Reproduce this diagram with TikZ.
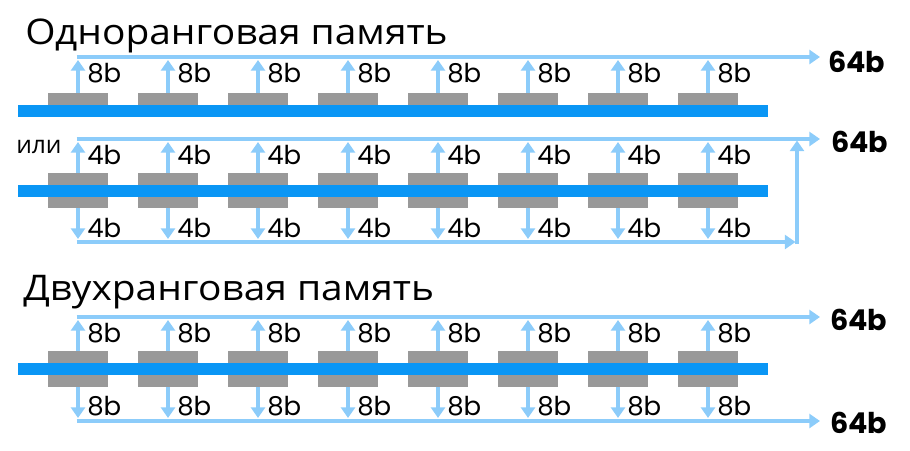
\documentclass[tikz,border=0pt]{standalone}
\usepackage{fontspec}
\setmainfont{Open Sans}
\newfontfamily\titlefont[FakeStretch=1.1]{Open Sans}
\newfontfamily\labelfont{Poppins}
\usetikzlibrary{arrows.meta}
\definecolor{busblue}{RGB}{10,150,245}
\definecolor{linkblue}{RGB}{140,204,250}
\definecolor{chipgray}{RGB}{153,153,153}

\begin{document}
\begin{tikzpicture}[x=0.75pt,y=0.75pt,yscale=-1,xscale=1]
\tikzset{
  chip/.style={fill=chipgray, inner sep=0pt, outer sep=0pt, minimum width=45pt},
  bus/.style={fill=busblue},
  link/.style={draw=linkblue, line width=2.8pt},
  tip/.style={-{Triangle[length=8pt,width=10.5pt]}},
  bits/.style={font=\labelfont\fontsize{19.5}{21}\selectfont, inner sep=0pt, anchor=base west},
  total/.style={font=\labelfont\bfseries\fontsize{21.5}{23}\selectfont, inner sep=0pt, anchor=base west},
  title/.style={font=\titlefont\fontsize{26.5}{30}\selectfont, inner sep=0pt, anchor=base west},
}
\useasboundingbox (0,0) rectangle (910,450);

% Text Node
\node[title] (t1) at (25,44) {Одноранговая память};
% Text Node
\node[title] (t2) at (23,300) {Двухранговая память};
% Text Node
\node[font=\fontsize{18.5}{20}\selectfont, inner sep=0pt, anchor=base west] (or) at (16,153) {или};

%Single rank, 8 chips x 8b
\coordinate (a-s) at (76.5,57);
\coordinate (a-e) at (820,57);
\coordinate (a-up) at (0,60);
\foreach \i in {0,...,7} {
  \node[chip, minimum height=18pt] (a\i) at (78+90*\i,105) {};
}
\fill[bus] (18,105) rectangle (768,117);
\draw[link,tip] (a-s) -- (a-e);
\foreach \i in {0,...,7} {
  \draw[link,tip] (a\i.north) -- (a\i.north |- a-up);
  \node[bits] (a\i-b) at (87+90*\i,82) {8b};
}
\node[total] (a-t) at (828,72) {64b};

%Single rank, 8 chips x (4b + 4b)
\coordinate (b-s) at (76.5,139);
\coordinate (b-e) at (820,139);
\coordinate (b-up) at (0,142);
\coordinate (b-dn) at (0,239);
\coordinate (b-ls) at (76.5,242);
\coordinate (b-le) at (795.5,242);
\coordinate (b-rs) at (797,244);
\coordinate (b-re) at (797,140.5);
\foreach \i in {0,...,7} {
  \node[chip, minimum height=26.25pt] (b\i) at (78+90*\i,190.5) {};
}
\fill[bus] (18,185) rectangle (768,197);
\draw[link,tip] (b-s) -- (b-e);
\draw[link,tip] (b-ls) -- (b-le);
\draw[link,tip] (b-rs) -- (b-re);
\foreach \i in {0,...,7} {
  \draw[link,tip] (b\i.north) -- (b\i.north |- b-up);
  \draw[link,tip] (b\i.south) -- (b\i.south |- b-dn);
  \node[bits] (b\i-u) at (87+90*\i,164) {4b};
  \node[bits] (b\i-d) at (87+90*\i,237) {4b};
}
\node[total] (b-t) at (831,152) {64b};

%Dual rank, 2 x 8 chips x 8b
\coordinate (c-s) at (76.5,317);
\coordinate (c-e) at (820,317);
\coordinate (c-up) at (0,320);
\coordinate (c-dn) at (0,418);
\coordinate (c-ls) at (76.5,421);
\coordinate (c-le) at (820,421);
\foreach \i in {0,...,7} {
  \node[chip, minimum height=27pt] (c\i) at (78+90*\i,369) {};
}
\fill[bus] (18,363) rectangle (768,374.5);
\draw[link,tip] (c-s) -- (c-e);
\draw[link,tip] (c-ls) -- (c-le);
\foreach \i in {0,...,7} {
  \draw[link,tip] (c\i.north) -- (c\i.north |- c-up);
  \draw[link,tip] (c\i.south) -- (c\i.south |- c-dn);
  \node[bits] (c\i-u) at (87+90*\i,342) {8b};
  \node[bits] (c\i-d) at (87+90*\i,415) {8b};
}
\node[total] (c-t1) at (830,330) {64b};
\node[total] (c-t2) at (830,433) {64b};
\end{tikzpicture}
\end{document}
